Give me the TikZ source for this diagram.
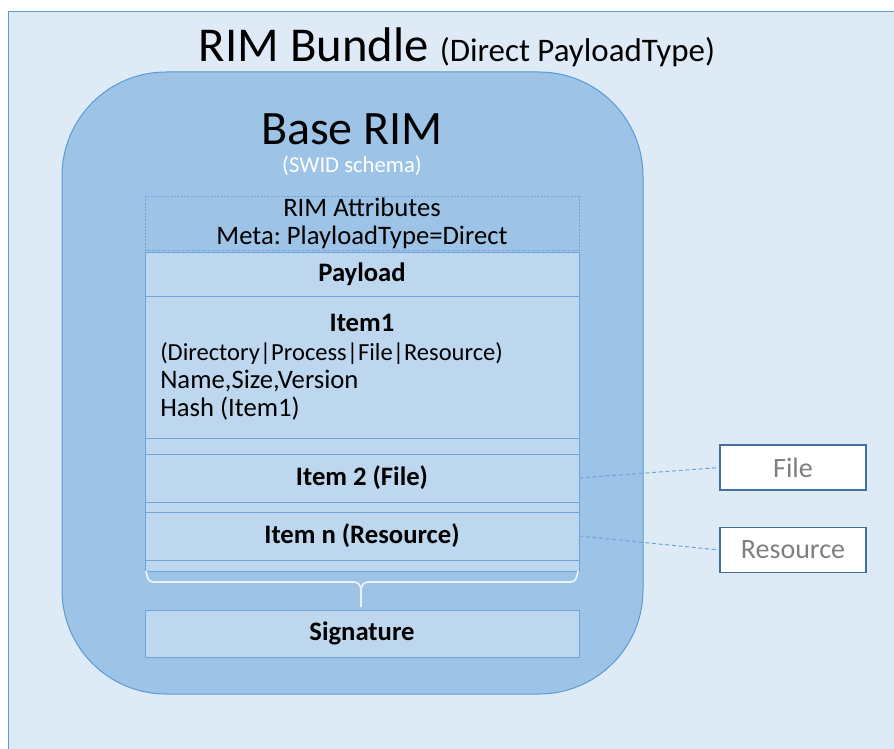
\documentclass[tikz,border=0pt]{standalone}
\usepackage{fontspec}
\setmainfont{Carlito}
\usepackage{tikz}
\usetikzlibrary{positioning}
\definecolor{bundlefill}{HTML}{DEEBF7}
\definecolor{bundleline}{HTML}{5B9BD5}
\definecolor{basefill}{HTML}{9DC3E6}
\definecolor{rowfill}{HTML}{BDD7EE}
\definecolor{rowline}{HTML}{6FA3DA}
\definecolor{tagline}{HTML}{41719C}
\definecolor{taggray}{HTML}{7F7F7F}
\definecolor{bracecol}{HTML}{EAF2FA}
\frenchspacing

\begin{document}
\begin{tikzpicture}[
  x=0.75pt, y=-0.75pt,
  node distance = 0pt,
  base/.style = {rectangle, draw=bundleline, fill=basefill, line width=0.75pt,
                 rounded corners=78pt, minimum width=435.75pt, minimum height=466.5pt},
  row/.style = {rectangle, draw=rowline, fill=rowfill, line width=0.75pt, inner sep=0pt,
                outer sep=0pt, minimum width=325.5pt, font=\fontsize{20}{24}\selectfont},
  attrbox/.style = {row, fill=basefill, dashed, dash pattern=on 1.5pt off 1pt,
                    align=center, font=\fontsize{20}{21}\selectfont},
  tag/.style = {rectangle, draw=tagline, fill=white, line width=1.1pt,
                minimum width=109.5pt, minimum height=33.75pt, text=taggray,
                font=\fontsize{21}{24}\selectfont},
  link/.style = {draw=rowline, dashed, dash pattern=on 3pt off 2pt, line width=0.75pt}
]

\useasboundingbox (0,0) rectangle (894,749);

% Background: the bundle
\draw[bundleline, fill=bundlefill, line width=0.75pt] (8,12) rectangle (910,770);
\node[anchor=base] (title) at (457,62) {\fontsize{36.5}{40}\selectfont RIM Bundle
  {\fontsize{24.7}{28}\selectfont (Direct PayloadType)}};

% Base RIM container
\node[base] (base) at (352.5,383) {};
\node[anchor=base, font=\fontsize{36}{40}\selectfont] (basetitle) at (352,145) {Base RIM};
\node[anchor=base, text=white, font=\fontsize{17}{20}\selectfont] (schema) at (352,173) {(SWID schema)};

% Rows of the RIM
\node[attrbox, minimum height=39.75pt, anchor=north] (attr) at (362,197)
  {RIM Attributes\\Meta: PlayloadType=Direct};
\node[row, minimum height=33pt, below=1.5pt of attr, font=\fontsize{20}{24}\bfseries] (payload) {Payload};
\node[row, minimum height=106.5pt, below=of payload] (item1) {};
\node[row, minimum height=12pt, below=of item1] (gapa) {};
\node[row, minimum height=36pt, below=of gapa, font=\fontsize{20}{24}\bfseries] (item2) {Item 2 (File)};
\node[row, minimum height=7.5pt, below=of item2] (gapb) {};
\node[row, minimum height=36pt, below=of gapb, font=\fontsize{20}{24}\bfseries] (itemn) {Item n (Resource)};
\node[row, minimum height=8.25pt, below=of itemn] (gapc) {};
\node[row, minimum height=35.25pt, below=29.25pt of gapc, font=\fontsize{20}{24}\bfseries] (sig) {Signature};

% Item1 contents
\node[anchor=base, font=\fontsize{20}{24}\bfseries] (item1head)
  at ([yshift=-26.8pt]item1.north) {Item1};
\node[anchor=base west, align=left, inner sep=0pt, font=\fontsize{20}{21}\selectfont] (item1body)
  at ([xshift=11.25pt, yshift=-90.5pt]item1.north west)
  {{\fontsize{18.4}{21}\selectfont(Directory|Process|File|Resource)}\\Name,Size,Version\\Hash (Item1)};

% Brace gathering the payload
\draw[bracecol, line width=1.3pt]
  (146,571) to[out=-80, in=180] (153,582) -- (354,582) to[out=0, in=90] (361,590) -- (361,607)
  (578,571) to[out=-100, in=0] (571,582) -- (368,582) to[out=180, in=90] (361,590);

% Types on the right
\node[tag] (file) at (793,467.5) {File};
\node[tag] (res) at (793,550) {Resource};

\draw[link] (item2.east) -- (file.west);
\draw[link] (itemn.east) -- (res.west);

\end{tikzpicture}
\end{document}
